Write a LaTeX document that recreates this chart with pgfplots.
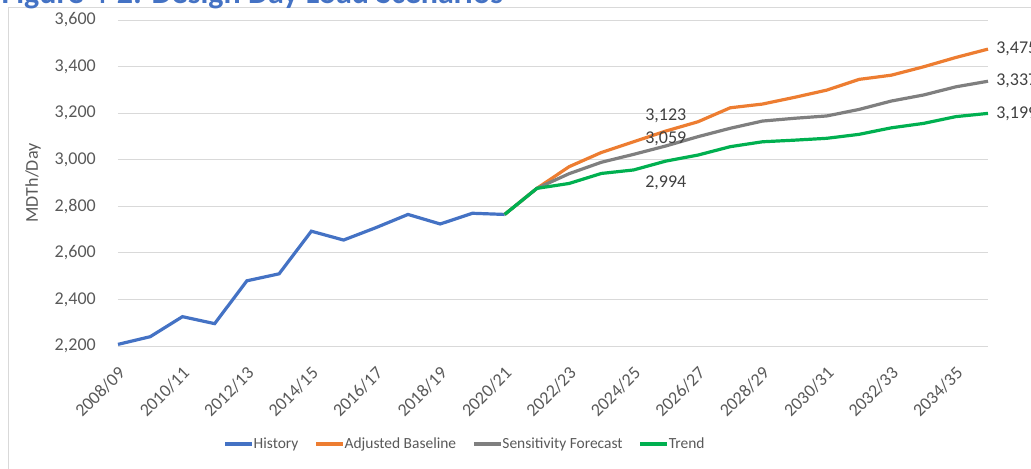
\documentclass[border=0pt]{standalone}
\usepackage{fontspec}
\setmainfont{Carlito}
\usepackage{pgfplots}
\pgfplotsset{compat=1.18}
\usepackage{pgfplotstable}

\definecolor{histc}{HTML}{4472C4}
\definecolor{basec}{HTML}{ED7D31}
\definecolor{sensc}{HTML}{7F7F7F}
\definecolor{trendc}{HTML}{00B050}
\definecolor{gridc}{HTML}{D9D9D9}
\definecolor{txtc}{HTML}{595959}
\definecolor{lblc}{HTML}{404040}
\definecolor{ttlc}{HTML}{4472C4}

% design day load, MDTh/Day; x = year index (0 = 2008/09)
\pgfplotstableread{
x y
0 2207
1 2240
2 2326
3 2296
4 2480
5 2510
6 2693
7 2655
8 2708
9 2765
10 2724
11 2770
12 2765
}\history
\pgfplotstableread{
x y
12 2765
13 2877
14 2970
15 3031
16 3077
17 3123
18 3163
19 3223
20 3239
21 3268
22 3299
23 3345
24 3363
25 3399
26 3439
27 3475
}\baseline
\pgfplotstableread{
x y
12 2765
13 2877
14 2940
15 2989
16 3023
17 3059
18 3099
19 3135
20 3166
21 3178
22 3188
23 3216
24 3252
25 3278
26 3313
27 3337
}\sensitivity
\pgfplotstableread{
x y
12 2765
13 2877
14 2898
15 2941
16 2956
17 2994
18 3020
19 3056
20 3077
21 3084
22 3092
23 3109
24 3137
25 3156
26 3185
27 3199
}\trend

\pgfplotsset{
  vlabel/.style={draw=none, mark=none, forget plot, point meta=y,
    nodes near coords, nodes near coords align={center},
    every node near coord/.append style={font=\fontsize{13.5}{16}\selectfont,
      text=lblc, inner sep=0pt}},
}

\begin{document}
\begin{tikzpicture}
% chart frame
\draw[gridc, line width=0.75pt] (6.4pt,-2pt) -- (6.4pt,345.4pt) -- (790pt,345.4pt);
% title
\node[anchor=base west, inner sep=0pt, text=ttlc,
      font=\bfseries\fontsize{24}{28}\selectfont] at (1pt,348pt)
      {Figure 4-2: Design Day Load Scenarios};
\begin{axis}[
  at={(88.5pt,91.5pt)}, anchor=south west,
  scale only axis, width=652.5pt, height=244.5pt,
  xmin=0, xmax=27, ymin=2200, ymax=3600,
  xtick={0,2,...,26},
  xticklabels={2008/09,2010/11,2012/13,2014/15,2016/17,2018/19,2020/21,
               2022/23,2024/25,2026/27,2028/29,2030/31,2032/33,2034/35},
  ytick={2200,2400,...,3600},
  axis line style={draw=none},
  major tick length=0pt,
  ymajorgrids, grid style={gridc, line width=0.75pt},
  clip=false,
  ticklabel style={font=\fontsize{13.5}{16}\selectfont, text=txtc},
  yticklabel style={anchor=east, inner sep=0pt, xshift=-16.5pt},
  xticklabel style={inner sep=0pt, xshift=3pt, yshift=-18pt, rotate=45, anchor=east},
  ylabel={MDTh/Day},
  every axis y label/.style={at={(axis description cs:-0.0977,0.5)},
    rotate=90, anchor=center, font=\fontsize{13.5}{16}\selectfont, text=txtc},
  legend columns=4,
  legend style={at={(axis description cs:0.3977,-0.3006)}, anchor=center,
    draw=none, fill=none, font=\fontsize{11.6}{14}\selectfont, text=txtc,
    nodes={inner xsep=0pt, inner ysep=0pt},
    /tikz/every even column/.append style={column sep=12pt}},
  legend image code/.code={\draw[#1] (0pt,0pt) -- (20.25pt,0pt);},
  /pgf/number format/1000 sep={,},
  /pgf/number format/assume math mode=true,
]
\addplot[histc, line width=2.4pt] table[x=x,y=y]{\history};
\addlegendentry{History}
\addplot[basec, line width=2.4pt] table[x=x,y=y]{\baseline};
\addlegendentry{Adjusted Baseline}
\addplot[sensc, line width=2.4pt] table[x=x,y=y]{\sensitivity};
\addlegendentry{Sensitivity Forecast}
\addplot[trendc, line width=2.4pt] table[x=x,y=y]{\trend};
\addlegendentry{Trend}

% value labels, read from the same tables
\addplot[vlabel, restrict x to domain=17:17,
  every node near coord/.append style={yshift=11.25pt}] table[x=x,y=y]{\baseline};
\addplot[vlabel, restrict x to domain=17:17,
  every node near coord/.append style={yshift=5.25pt}] table[x=x,y=y]{\sensitivity};
\addplot[vlabel, restrict x to domain=17:17,
  every node near coord/.append style={yshift=-16.5pt}] table[x=x,y=y]{\trend};
\addplot[vlabel, restrict x to domain=27:27, nodes near coords align={west},
  every node near coord/.append style={xshift=6pt}] table[x=x,y=y]{\baseline};
\addplot[vlabel, restrict x to domain=27:27, nodes near coords align={west},
  every node near coord/.append style={xshift=6pt}] table[x=x,y=y]{\sensitivity};
\addplot[vlabel, restrict x to domain=27:27, nodes near coords align={west},
  every node near coord/.append style={xshift=6pt}] table[x=x,y=y]{\trend};
\end{axis}
\pgfresetboundingbox
\path[use as bounding box] (0pt,0pt) rectangle (773.25pt,351pt);
\end{tikzpicture}
\end{document}
